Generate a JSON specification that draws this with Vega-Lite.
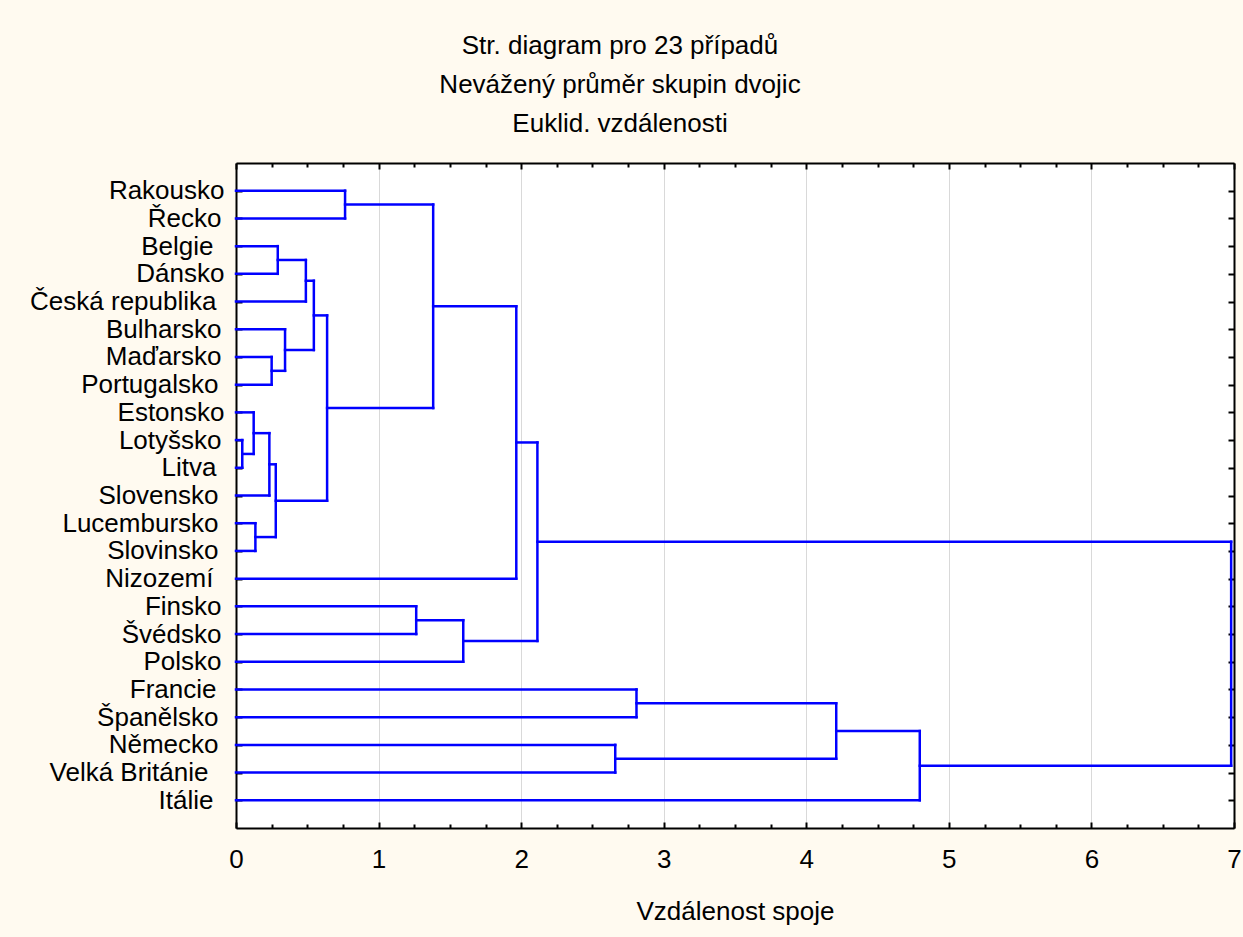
{
  "$schema": "https://vega.github.io/schema/vega-lite/v6.json",
  "autosize": "none",
  "width": 998,
  "height": 665,
  "padding": {"left": 236, "top": 163, "right": 9, "bottom": 109},
  "background": "#fffaf0",
  "title": {
    "text": ["Str. diagram pro 23 případů", "Nevážený průměr skupin dvojic", "Euklid. vzdálenosti"],
    "anchor": "middle",
    "frame": "group",
    "dx": -115,
    "font": "Liberation Sans",
    "fontSize": 26,
    "fontWeight": "normal",
    "color": "#000000",
    "lineHeight": 39,
    "offset": 25
  },
  "config": {
    "view": {"fill": "#ffffff", "stroke": null},
    "axis": {
      "domainColor": "#000000",
      "domainWidth": 2,
      "tickColor": "#000000",
      "tickWidth": 2,
      "labelFont": "Liberation Sans",
      "labelFontSize": 26,
      "labelColor": "#000000",
      "labelLimit": 500,
      "titleFont": "Liberation Sans",
      "titleFontSize": 26,
      "titleFontWeight": "normal",
      "titleColor": "#000000"
    }
  },
  "datasets": {
    "horiz": [
      {"x0": 0, "x1": 0.765, "y": 1}, {"x0": 0, "x1": 0.765, "y": 2}, {"x0": 0.765, "x1": 1.383, "y": 1.5},
      {"x0": 0, "x1": 0.293, "y": 3}, {"x0": 0, "x1": 0.293, "y": 4}, {"x0": 0.293, "x1": 0.49, "y": 3.5},
      {"x0": 0, "x1": 0.49, "y": 5}, {"x0": 0.49, "x1": 0.546, "y": 4.25},
      {"x0": 0, "x1": 0.344, "y": 6}, {"x0": 0, "x1": 0.25, "y": 7}, {"x0": 0, "x1": 0.25, "y": 8},
      {"x0": 0.25, "x1": 0.344, "y": 7.5}, {"x0": 0.344, "x1": 0.546, "y": 6.75}, {"x0": 0.546, "x1": 0.639, "y": 5.5},
      {"x0": 0, "x1": 0.124, "y": 9}, {"x0": 0, "x1": 0.044, "y": 10}, {"x0": 0, "x1": 0.044, "y": 11},
      {"x0": 0.044, "x1": 0.124, "y": 10.5}, {"x0": 0.124, "x1": 0.234, "y": 9.75}, {"x0": 0, "x1": 0.234, "y": 12},
      {"x0": 0.234, "x1": 0.279, "y": 10.875},
      {"x0": 0, "x1": 0.136, "y": 13}, {"x0": 0, "x1": 0.136, "y": 14}, {"x0": 0.136, "x1": 0.279, "y": 13.5},
      {"x0": 0.279, "x1": 0.639, "y": 12.1875}, {"x0": 0.639, "x1": 1.383, "y": 8.84375},
      {"x0": 1.383, "x1": 1.966, "y": 5.171875}, {"x0": 0, "x1": 1.966, "y": 15}, {"x0": 1.966, "x1": 2.114, "y": 10.0859},
      {"x0": 0, "x1": 1.264, "y": 16}, {"x0": 0, "x1": 1.264, "y": 17}, {"x0": 1.264, "x1": 1.594, "y": 16.5},
      {"x0": 0, "x1": 1.594, "y": 18}, {"x0": 1.594, "x1": 2.114, "y": 17.25}, {"x0": 2.114, "x1": 6.98, "y": 13.668},
      {"x0": 0, "x1": 2.809, "y": 19}, {"x0": 0, "x1": 2.809, "y": 20}, {"x0": 2.809, "x1": 4.21, "y": 19.5},
      {"x0": 0, "x1": 2.66, "y": 21}, {"x0": 0, "x1": 2.66, "y": 22}, {"x0": 2.66, "x1": 4.21, "y": 21.5},
      {"x0": 4.21, "x1": 4.796, "y": 20.5}, {"x0": 0, "x1": 4.796, "y": 23}, {"x0": 4.796, "x1": 6.98, "y": 21.75}
    ],
    "vert": [
      {"x": 0.765, "y0": 1, "y1": 2}, {"x": 0.293, "y0": 3, "y1": 4}, {"x": 0.49, "y0": 3.5, "y1": 5},
      {"x": 0.25, "y0": 7, "y1": 8}, {"x": 0.344, "y0": 6, "y1": 7.5}, {"x": 0.546, "y0": 4.25, "y1": 6.75},
      {"x": 0.044, "y0": 10, "y1": 11}, {"x": 0.124, "y0": 9, "y1": 10.5}, {"x": 0.234, "y0": 9.75, "y1": 12},
      {"x": 0.136, "y0": 13, "y1": 14}, {"x": 0.279, "y0": 10.875, "y1": 13.5}, {"x": 0.639, "y0": 5.5, "y1": 12.1875},
      {"x": 1.383, "y0": 1.5, "y1": 8.84375}, {"x": 1.966, "y0": 5.171875, "y1": 15},
      {"x": 1.264, "y0": 16, "y1": 17}, {"x": 1.594, "y0": 16.5, "y1": 18}, {"x": 2.114, "y0": 10.0859, "y1": 17.25},
      {"x": 2.809, "y0": 19, "y1": 20}, {"x": 2.66, "y0": 21, "y1": 22}, {"x": 4.21, "y0": 19.5, "y1": 21.5},
      {"x": 4.796, "y0": 20.5, "y1": 23}, {"x": 6.98, "y0": 13.668, "y1": 21.75}
    ]
  },
  "layer": [
    {
      "data": {"name": "horiz"},
      "mark": {"type": "rule", "color": "#0000ff", "strokeWidth": 2.5, "strokeCap": "square"},
      "encoding": {
        "x": {
          "field": "x0", "type": "quantitative",
          "scale": {"domain": [0, 7], "nice": false, "zero": false},
          "axis": {
            "orient": "bottom",
            "title": "Vzdálenost spoje",
            "titlePadding": 26,
            "values": [0, 0.25, 0.5, 0.75, 1, 1.25, 1.5, 1.75, 2, 2.25, 2.5, 2.75, 3, 3.25, 3.5, 3.75, 4, 4.25, 4.5, 4.75, 5, 5.25, 5.5, 5.75, 6, 6.25, 6.5, 6.75, 7],
            "labelExpr": "datum.value % 1 === 0 ? format(datum.value, 'd') : ''",
            "labelFlush": false,
            "labelPadding": 24,
            "tickSize": {"condition": {"test": "datum.value % 1 === 0", "value": -6}, "value": -4},
            "grid": true,
            "gridColor": "#d9d9d9",
            "gridWidth": 1,
            "gridOpacity": {"condition": {"test": "datum.value % 1 === 0", "value": 1}, "value": 0}
          }
        },
        "x2": {"field": "x1"},
        "y": {
          "field": "y", "type": "quantitative",
          "scale": {"domain": [0, 24], "nice": false, "zero": false, "reverse": true},
          "axis": {
            "orient": "left",
            "title": null,
            "grid": false,
            "values": [1, 2, 3, 4, 5, 6, 7, 8, 9, 10, 11, 12, 13, 14, 15, 16, 17, 18, 19, 20, 21, 22, 23],
            "labelExpr": "['Rakousko', 'Řecko', 'Belgie', 'Dánsko', 'Česká republika', 'Bulharsko', 'Maďarsko', 'Portugalsko', 'Estonsko', 'Lotyšsko', 'Litva', 'Slovensko', 'Lucembursko', 'Slovinsko', 'Nizozemí', 'Finsko', 'Švédsko', 'Polsko', 'Francie', 'Španělsko', 'Německo', 'Velká Británie', 'Itálie'][datum.value - 1]",
            "tickSize": -6,
            "labelPadding": {
              "condition": [
                {"test": "datum.value === 22", "value": 34},
                {"test": "datum.value === 3 || datum.value === 15 || datum.value === 23", "value": 29},
                {"test": "datum.value === 5 || datum.value === 11 || datum.value === 19", "value": 26},
                {"test": "datum.value === 8 || datum.value === 12 || datum.value === 13 || datum.value === 14 || datum.value === 20 || datum.value === 21", "value": 24},
                {"test": "datum.value === 2 || datum.value === 6 || datum.value === 7 || datum.value === 10 || datum.value === 16 || datum.value === 17 || datum.value === 18", "value": 21}
              ],
              "value": 18
            },
            "labelFlush": false
          }
        }
      }
    },
    {
      "data": {"name": "vert"},
      "mark": {"type": "rule", "color": "#0000ff", "strokeWidth": 2.5, "strokeCap": "square"},
      "encoding": {
        "x": {
          "field": "x", "type": "quantitative",
          "scale": {"domain": [0, 7], "nice": false, "zero": false},
          "axis": {
            "orient": "top",
            "title": null,
            "labels": false,
            "grid": false,
            "values": [0, 0.25, 0.5, 0.75, 1, 1.25, 1.5, 1.75, 2, 2.25, 2.5, 2.75, 3, 3.25, 3.5, 3.75, 4, 4.25, 4.5, 4.75, 5, 5.25, 5.5, 5.75, 6, 6.25, 6.5, 6.75, 7],
            "tickSize": {"condition": {"test": "datum.value % 1 === 0", "value": -6}, "value": -4}
          }
        },
        "y": {
          "field": "y0", "type": "quantitative",
          "scale": {"domain": [0, 24], "nice": false, "zero": false, "reverse": true},
          "axis": {
            "orient": "right",
            "title": null,
            "labels": false,
            "grid": false,
            "values": [1, 2, 3, 4, 5, 6, 7, 8, 9, 10, 11, 12, 13, 14, 15, 16, 17, 18, 19, 20, 21, 22, 23],
            "tickSize": -6
          }
        },
        "y2": {"field": "y1"}
      }
    }
  ],
  "resolve": {"axis": {"x": "independent", "y": "independent"}}
}
